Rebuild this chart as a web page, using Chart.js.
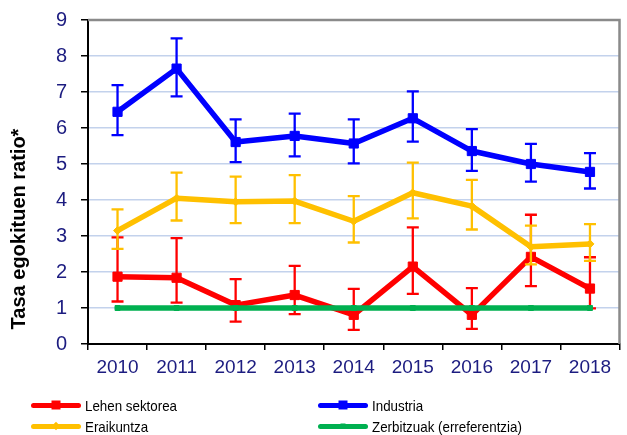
<!DOCTYPE html>
<html><head><meta charset="utf-8">
<script src="https://cdn.jsdelivr.net/npm/chart.js@4"></script>
<style>
html,body{margin:0;padding:0;background:#fff;}
#wrap{position:relative;width:627px;height:435px;overflow:hidden;}
canvas{position:absolute;left:0;top:0;}
.leg{position:absolute;font-family:"Liberation Sans",Arial,sans-serif;font-size:15px;color:#000;display:flex;align-items:center;white-space:nowrap;height:16px;}
.leg span{display:inline-block;transform:scaleX(0.89);transform-origin:left center;}
.sw{position:relative;width:50px;height:14px;margin-right:4px;flex:none;}
.sw .ln{position:absolute;left:0;right:0;top:5px;height:5px;border-radius:3px;}
.sw .mk{position:absolute;left:50%;top:50%;transform:translate(-50%,-50%);}
</style></head>
<body>
<div id="wrap">
<canvas id="c" width="627" height="435"></canvas>
<div class="leg" style="left:31px;top:397px;"><div class="sw"><div class="ln" style="background:#ff0000"></div><div class="mk" style="width:9px;height:9px;background:#ff0000"></div></div><span>Lehen sektorea</span></div>
<div class="leg" style="left:318px;top:397px;"><div class="sw"><div class="ln" style="background:#0000ff"></div><div class="mk" style="width:9px;height:9px;background:#0000ff"></div></div><span>Industria</span></div>
<div class="leg" style="left:31px;top:418px;"><div class="sw"><div class="ln" style="background:#ffc000"></div><div class="mk" style="width:6px;height:6px;background:#ffc000;transform:translate(-50%,-50%) rotate(45deg)"></div></div><span>Eraikuntza</span></div>
<div class="leg" style="left:318px;top:418px;"><div class="sw"><div class="ln" style="background:#00b050"></div><div class="mk" style="width:5px;height:5px;background:#00b050"></div></div><span>Zerbitzuak (erreferentzia)</span></div>
</div>
<script>
const years = ['2010','2011','2012','2013','2014','2015','2016','2017','2018'];
const yTicks = [0,1,2,3,4,5,6,7,8,9];
const yTitle = 'Tasa egokituen ratio*';

const lehen      = [1.87, 1.84, 1.08, 1.36, 0.81, 2.15, 0.81, 2.42, 1.54];
const lehenHigh  = [2.96, 2.94, 1.80, 2.17, 1.53, 3.24, 1.55, 3.59, 2.41];
const lehenLow   = [1.18, 1.15, 0.62, 0.83, 0.39, 1.39, 0.42, 1.61, 0.99];

const industria     = [6.45, 7.65, 5.61, 5.78, 5.57, 6.27, 5.36, 5.00, 4.78];
const industriaHigh = [7.19, 8.49, 6.24, 6.40, 6.24, 7.02, 5.97, 5.56, 5.30];
const industriaLow  = [5.80, 6.88, 5.05, 5.21, 5.02, 5.62, 4.81, 4.51, 4.32];

const eraikuntza     = [3.15, 4.05, 3.95, 3.97, 3.41, 4.20, 3.83, 2.70, 2.78];
const eraikuntzaHigh = [3.74, 4.76, 4.65, 4.69, 4.11, 5.04, 4.56, 3.29, 3.33];
const eraikuntzaLow  = [2.64, 3.43, 3.36, 3.36, 2.82, 3.49, 3.18, 2.21, 2.31];

const zerbitzuak = [1, 1, 1, 1, 1, 1, 1, 1, 1];

const FONT = '"Liberation Sans", Arial, sans-serif';
const NAVY = '#1c1c80';

const errorBars = {
  id: 'errorBars',
  afterDatasetDraw(chart, args) {
    const ds = chart.data.datasets[args.index];
    if (!ds.errHigh) return;
    const ctx = chart.ctx, y = chart.scales.y;
    ctx.save();
    ctx.strokeStyle = ds.borderColor;
    ctx.lineWidth = 2.3;
    args.meta.data.forEach((pt, i) => {
      const x = pt.x;
      const yh = y.getPixelForValue(ds.errHigh[i]);
      const yl = y.getPixelForValue(ds.errLow[i]);
      ctx.beginPath();
      ctx.moveTo(x, yh); ctx.lineTo(x, yl);
      ctx.moveTo(x - 6, yh); ctx.lineTo(x + 6, yh);
      ctx.moveTo(x - 6, yl); ctx.lineTo(x + 6, yl);
      ctx.stroke();
    });
    ctx.restore();
  }
};

const frame = {
  id: 'frame',
  beforeDatasetsDraw(chart) {
    const {ctx, chartArea: a} = chart;
    ctx.save();
    ctx.strokeStyle = '#8a8a8a';
    ctx.lineWidth = 2.5;
    ctx.beginPath();
    ctx.moveTo(a.left, a.top); ctx.lineTo(a.right, a.top); ctx.lineTo(a.right, a.bottom);
    ctx.stroke();
    ctx.restore();
  },
  afterDraw(chart) {
    const ctx = chart.ctx;
    ctx.save();
    ctx.translate(19, 229);
    ctx.rotate(-Math.PI / 2);
    ctx.font = 'bold 20px ' + FONT;
    ctx.fillStyle = '#000';
    ctx.textAlign = 'center';
    ctx.textBaseline = 'middle';
    ctx.fillText(yTitle, 0, 0);
    ctx.restore();
  }
};

function line(label, data, color, style, r, order, hi, lo) {
  return {
    label, data, order,
    borderColor: color, backgroundColor: color,
    borderWidth: 5.5, borderJoinStyle: 'round', borderCapStyle: 'round',
    pointStyle: style, pointRadius: r, pointHoverRadius: r,
    pointBorderWidth: 1, pointBorderColor: color, pointBackgroundColor: color,
    tension: 0, errHigh: hi, errLow: lo
  };
}

new Chart(document.getElementById('c'), {
  type: 'line',
  data: {
    labels: years,
    datasets: [
      line('Lehen sektorea', lehen, '#ff0000', 'rect', 6.5, 3, lehenHigh, lehenLow),
      line('Industria', industria, '#0000ff', 'rect', 6.5, 2, industriaHigh, industriaLow),
      line('Eraikuntza', eraikuntza, '#ffc000', 'rectRot', 4, 1, eraikuntzaHigh, eraikuntzaLow),
      line('Zerbitzuak (erreferentzia)', zerbitzuak, '#00b050', 'rect', 3.5, 0, null, null)
    ]
  },
  options: {
    responsive: false, animation: false, devicePixelRatio: 1,
    layout: {padding: {top: 20, right: 7, left: 0, bottom: 0}},
    plugins: {legend: {display: false}, tooltip: {enabled: false}},
    scales: {
      x: {
        offset: true,
        grid: {offset: true, drawOnChartArea: false, drawTicks: true, tickLength: 6, color: '#000', lineWidth: 1.5},
        border: {color: '#000', width: 2},
        ticks: {color: NAVY, font: {size: 19, family: FONT}, padding: 6, maxRotation: 0},
        afterFit(s) { s.height = 91; s.paddingLeft = 0; s.paddingRight = 0; }
      },
      y: {
        min: 0, max: 9,
        afterBuildTicks(s) { s.ticks = yTicks.map(v => ({value: v})); },
        grid: {color: '#c3d2ec', lineWidth: 1.5, tickLength: 7, tickColor: '#000', drawTicks: true},
        border: {color: '#000', width: 2},
        ticks: {color: NAVY, font: {size: 20, family: FONT}, padding: 14},
        title: {display: false},
        afterFit(s) { s.width = 88; s.paddingTop = 0; s.paddingBottom = 0; }
      }
    }
  },
  plugins: [frame, errorBars]
});
</script>
</body></html>
